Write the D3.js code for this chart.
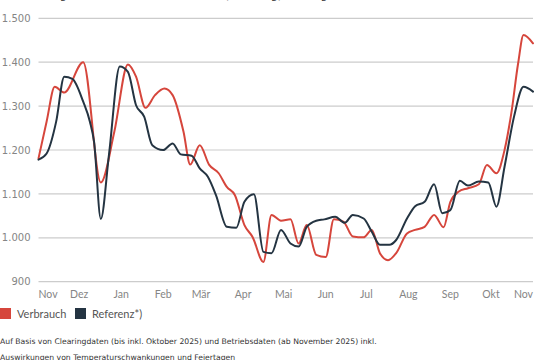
<!DOCTYPE html>
<html><head><meta charset="utf-8">
<script src="https://cdn.jsdelivr.net/npm/d3@7"></script>
<style>
html,body{margin:0;padding:0;background:#fff;overflow:hidden;}
text{font-family:"DejaVu Sans",sans-serif;}
</style></head>
<body><svg id="c" width="540" height="360"></svg>
<script>
// Data (day offsets from 1 Nov 2024, values in GWh/Tag)
const monthLabels = ["Nov","Dez","Jan","Feb","Mär","Apr","Mai","Jun","Jul","Aug","Sep","Okt","Nov"];
const yTicks = [900,1000,1100,1200,1300,1400,1500];
const verbrauchDays = [0,6,12,19,33,46,56,66,72,79,86,93,99,107,112,119,126,133,139,145,152,158,166,172,179,186,192,198,205,212,218,225,232,240,246,252,258,264,272,278,285,292,299,304,310,317,325,331,338,344,349,354,358,365];
const verbrauchValues = [1181,1265,1344,1331,1400,1126,1242,1395,1367,1296,1325,1340,1325,1242,1167,1211,1166,1147,1116,1097,1029,1002,945,1052,1039,1042,987,1029,961,956,1042,1037,1003,1001,1018,965,949,965,1010,1018,1025,1052,1024,1082,1105,1113,1122,1166,1147,1200,1284,1397,1462,1443];
const referenzDays = [0,6,13,19,25,33,38,41,46,52,60,66,72,78,84,92,99,105,113,119,125,131,139,146,152,159,166,172,179,186,192,198,205,211,219,226,232,240,246,252,259,264,272,278,285,292,298,304,311,317,325,332,338,344,351,358,365];
const referenzValues = [1178,1192,1264,1367,1362,1310,1264,1219,1043,1189,1390,1378,1302,1276,1211,1200,1215,1190,1187,1158,1139,1097,1025,1023,1082,1099,968,965,1018,987,980,1025,1039,1042,1048,1034,1052,1044,1014,984,984,995,1044,1072,1082,1122,1056,1063,1130,1119,1128,1126,1071,1162,1276,1344,1333];
const seriesNames = ["Verbrauch","Referenz*)"];
const seriesColors = ["#d6463c","#243442"];
const footnote = ["Auf Basis von Clearingdaten (bis inkl. Oktober 2025) und Betriebsdaten (ab November 2025) inkl.",
                  "Auswirkungen von Temperaturschwankungen und Feiertagen"];

const svg = d3.select("#c");
const start = new Date(2024,10,1);
const toDate = d => d3.timeDay.offset(start, d);

const x = d3.scaleTime().domain([start, new Date(2025,10,1)]).range([38.5,533]);
const y = d3.scaleLinear().domain([900,1500]).range([281.7,18.3]);

// title (mostly above the visible area, as in the reference)
svg.append("text").attr("x",0).attr("y",-1.5).attr("font-size",11).attr("fill","#444")
  .text("Entwicklung Gasverbrauch in Österreich (GWh/Tag) im Vergleich zur Referenz");

// grid
svg.append("g").selectAll("line").data(yTicks).join("line")
  .attr("x1",38.5).attr("x2",533).attr("y1",d=>y(d)).attr("y2",d=>y(d))
  .attr("stroke","#cccccc").attr("stroke-width",1.2);

// y labels
const fmt = v => v>=1000 ? d3.format(",")(v).replace(",",".") : String(v);
svg.append("g").selectAll("text").data(yTicks).join("text")
  .attr("x",30.5).attr("y",d=>y(d)+3.6).attr("font-size",10).attr("fill","#858585")
  .attr("text-anchor","end")
  .text(fmt);

// x labels
const months = d3.timeMonth.range(start, new Date(2025,10,2));
svg.append("g").selectAll("text").data(months).join("text")
  .attr("x",d=>x(d)).attr("y",297.5).attr("font-size",10.5).attr("fill","#858585")
  .style("font-family","Lato, sans-serif")
  .attr("text-anchor",(d,i)=> i===0 ? "start" : (i===months.length-1 ? "end" : "middle"))
  .text((d,i)=>monthLabels[i]);

// lines
const line = d3.line().x(d=>x(toDate(d[0]))).y(d=>y(d[1])).curve(d3.curveMonotoneX);
const series = [
  d3.zip(verbrauchDays, verbrauchValues),
  d3.zip(referenzDays, referenzValues)
];
svg.append("g").selectAll("path").data(series).join("path")
  .attr("d",line).attr("fill","none")
  .attr("stroke",(d,i)=>seriesColors[i]).attr("stroke-width",2)
  .attr("stroke-linejoin","round").attr("stroke-linecap","round");

// legend
const legX = [0,75];
const lg = svg.append("g");
seriesNames.forEach((n,i)=>{
  lg.append("rect").attr("x",legX[i]).attr("y",308).attr("width",11).attr("height",11).attr("fill",seriesColors[i]);
  lg.append("text").attr("x",legX[i]+17).attr("y",317.5).attr("font-size",11)
    .style("font-family","Lato, sans-serif").attr("fill","#555").text(n);
});

// footnote
svg.append("g").selectAll("text").data(footnote).join("text")
  .attr("x",0).attr("y",(d,i)=>344+i*15.5).attr("font-size",7.7).attr("fill","#333").text(d=>d);
</script></body></html>
